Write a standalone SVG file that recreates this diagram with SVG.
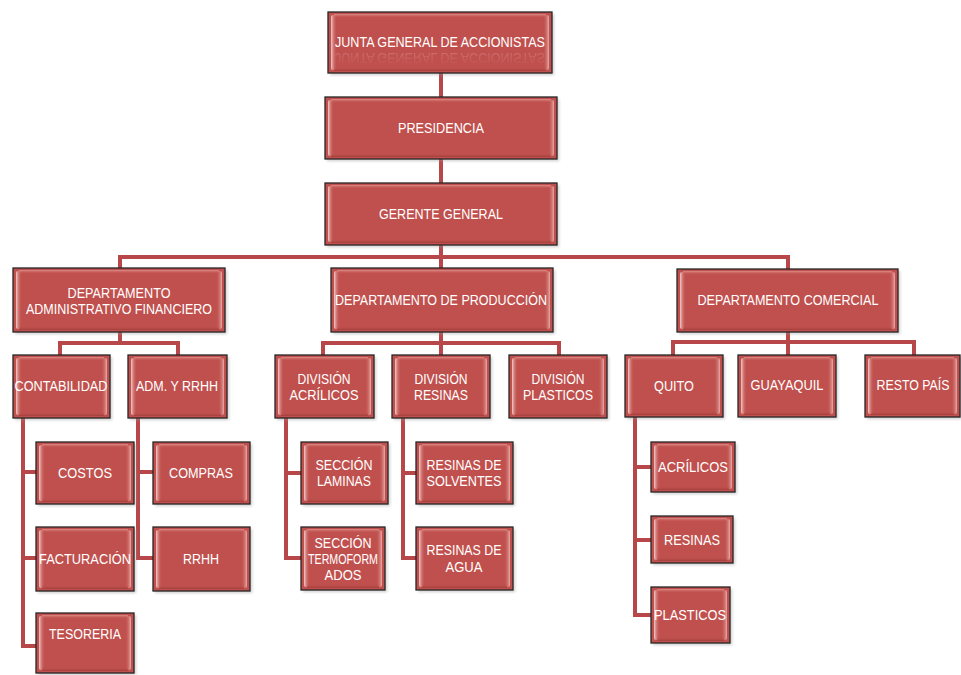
<svg xmlns="http://www.w3.org/2000/svg" width="961" height="675" viewBox="0 0 961 675">
  <defs>
    <linearGradient id="hlL" x1="0" y1="0" x2="1" y2="0">
      <stop offset="0" stop-color="#f6d3d2" stop-opacity="0.95"/>
      <stop offset="1" stop-color="#c0504d" stop-opacity="0"/>
    </linearGradient>
    <linearGradient id="hlR" x1="1" y1="0" x2="0" y2="0">
      <stop offset="0" stop-color="#f0c4c3" stop-opacity="0.8"/>
      <stop offset="1" stop-color="#c0504d" stop-opacity="0"/>
    </linearGradient>
    <linearGradient id="hlT" x1="0" y1="0" x2="0" y2="1">
      <stop offset="0" stop-color="#e9a9a7" stop-opacity="0.7"/>
      <stop offset="1" stop-color="#c0504d" stop-opacity="0"/>
    </linearGradient>
    <linearGradient id="hlB" x1="0" y1="1" x2="0" y2="0">
      <stop offset="0" stop-color="#8e3431" stop-opacity="0.6"/>
      <stop offset="1" stop-color="#c0504d" stop-opacity="0"/>
    </linearGradient>
    <linearGradient id="refl" x1="0" y1="0" x2="0" y2="1">
      <stop offset="0" stop-color="#ffffff" stop-opacity="0"/>
      <stop offset="1" stop-color="#ffffff" stop-opacity="0.5"/>
    </linearGradient>
    <filter id="sh" x="-10%" y="-10%" width="130%" height="130%">
      <feGaussianBlur stdDeviation="1.5"/>
    </filter>
    <style>
      .shadow { fill: #9a9a9a; opacity: 0.5; filter: url(#sh); }
      .box { fill: #c0504d; stroke: #262626; stroke-width: 1.3; }
      .l { fill: url(#hlL); }
      .r { fill: url(#hlR); }
      .t { fill: url(#hlT); }
      .b { fill: url(#hlB); }
      text { font-family: "Liberation Sans", Arial, sans-serif; font-size: 14.5px; fill: #ffffff; text-anchor: middle; }
      .refl { fill: url(#refl); opacity: 0.4; }
      .c-out { fill: none; stroke: #b8474a; stroke-width: 4; stroke-linejoin: miter; }
      .c-in { fill: none; stroke: #d98e8c; stroke-width: 1.2; opacity: 0.8; }
    </style>
  </defs>
  <rect width="961" height="675" fill="#ffffff"/>

  <!-- connectors -->
  <g id="connectors">
    <path id="links" class="c-out" d="M441 73V97 M441 159V183 M441 245V268 M120 268V257H788V269
      M120 332V343 M60 355V343H178V355
      M23 418V646H36 M23 472H36 M23 558H36
      M138 418V558H153 M138 472H153
      M441 332V355 M323 355V343H559V355
      M286 418V558H301 M286 473H301
      M403 418V558H416 M403 473H416
      M788 332V355 M673 355V342H914V355
      M635 417V615H651 M635 467H651 M635 540H651"/>
    <use href="#links" class="c-in"/>
  </g>

  <!-- nodes -->
  <g id="junta">
    <rect class="shadow" x="330" y="14" width="224" height="61"/>
    <rect class="box" x="328" y="12" width="224" height="61"/>
    <rect class="l" x="331" y="15" width="6" height="55" rx="2"/>
    <rect class="r" x="543" y="15" width="6" height="55" rx="2"/>
    <rect class="t" x="334" y="14" width="212" height="4"/>
    <rect class="b" x="334" y="67" width="212" height="4"/>
    <text x="440" y="47" textLength="210" lengthAdjust="spacingAndGlyphs">JUNTA GENERAL DE ACCIONISTAS</text>
    <!-- faint mirrored copy under the title -->
    <text class="refl" x="440" y="-53" transform="scale(1,-1)" textLength="210" lengthAdjust="spacingAndGlyphs" font-size="11">JUNTA GENERAL DE ACCIONISTAS</text>
  </g>
  <g id="presidencia">
    <rect class="shadow" x="327" y="99" width="232" height="62"/>
    <rect class="box" x="325" y="97" width="232" height="62"/>
    <rect class="l" x="328" y="100" width="6" height="56" rx="2"/>
    <rect class="r" x="548" y="100" width="6" height="56" rx="2"/>
    <rect class="t" x="331" y="99" width="220" height="4"/>
    <rect class="b" x="331" y="153" width="220" height="4"/>
    <text x="441" y="133" textLength="86" lengthAdjust="spacingAndGlyphs">PRESIDENCIA</text>
  </g>
  <g id="gerente">
    <rect class="shadow" x="327" y="185" width="232" height="62"/>
    <rect class="box" x="325" y="183" width="232" height="62"/>
    <rect class="l" x="328" y="186" width="6" height="56" rx="2"/>
    <rect class="r" x="548" y="186" width="6" height="56" rx="2"/>
    <rect class="t" x="331" y="185" width="220" height="4"/>
    <rect class="b" x="331" y="239" width="220" height="4"/>
    <text x="441" y="219" textLength="124" lengthAdjust="spacingAndGlyphs">GERENTE GENERAL</text>
  </g>

  <g id="dept-admin">
    <rect class="shadow" x="15" y="270" width="212" height="64"/>
    <rect class="box" x="13" y="268" width="212" height="64"/>
    <rect class="l" x="16" y="271" width="6" height="58" rx="2"/>
    <rect class="r" x="216" y="271" width="6" height="58" rx="2"/>
    <rect class="t" x="19" y="270" width="200" height="4"/>
    <rect class="b" x="19" y="326" width="200" height="4"/>
    <text x="119" y="298" textLength="103" lengthAdjust="spacingAndGlyphs">DEPARTAMENTO</text>
    <text x="119" y="314" textLength="186" lengthAdjust="spacingAndGlyphs">ADMINISTRATIVO FINANCIERO</text>
  </g>
  <g id="dept-produccion">
    <rect class="shadow" x="333" y="270" width="222" height="64"/>
    <rect class="box" x="331" y="268" width="222" height="64"/>
    <rect class="l" x="334" y="271" width="6" height="58" rx="2"/>
    <rect class="r" x="544" y="271" width="6" height="58" rx="2"/>
    <rect class="t" x="337" y="270" width="210" height="4"/>
    <rect class="b" x="337" y="326" width="210" height="4"/>
    <text x="441" y="305" textLength="212" lengthAdjust="spacingAndGlyphs">DEPARTAMENTO DE PRODUCCIÓN</text>
  </g>
  <g id="dept-comercial">
    <rect class="shadow" x="679" y="271" width="221" height="63"/>
    <rect class="box" x="677" y="269" width="221" height="63"/>
    <rect class="l" x="680" y="272" width="6" height="57" rx="2"/>
    <rect class="r" x="889" y="272" width="6" height="57" rx="2"/>
    <rect class="t" x="683" y="271" width="209" height="4"/>
    <rect class="b" x="683" y="326" width="209" height="4"/>
    <text x="788" y="305" textLength="181" lengthAdjust="spacingAndGlyphs">DEPARTAMENTO COMERCIAL</text>
  </g>

  <g id="contabilidad">
    <rect class="shadow" x="15" y="357" width="97" height="63"/>
    <rect class="box" x="13" y="355" width="97" height="63"/>
    <rect class="l" x="16" y="358" width="6" height="57" rx="2"/>
    <rect class="r" x="101" y="358" width="6" height="57" rx="2"/>
    <rect class="t" x="19" y="357" width="85" height="4"/>
    <rect class="b" x="19" y="412" width="85" height="4"/>
    <text x="61" y="391" textLength="93" lengthAdjust="spacingAndGlyphs">CONTABILIDAD</text>
  </g>
  <g id="adm-rrhh">
    <rect class="shadow" x="130" y="357" width="99" height="63"/>
    <rect class="box" x="128" y="355" width="99" height="63"/>
    <rect class="l" x="131" y="358" width="6" height="57" rx="2"/>
    <rect class="r" x="218" y="358" width="6" height="57" rx="2"/>
    <rect class="t" x="134" y="357" width="87" height="4"/>
    <rect class="b" x="134" y="412" width="87" height="4"/>
    <text x="177" y="391" textLength="82" lengthAdjust="spacingAndGlyphs">ADM. Y RRHH</text>
  </g>
  <g id="costos">
    <rect class="shadow" x="38" y="444" width="98" height="62"/>
    <rect class="box" x="36" y="442" width="98" height="62"/>
    <rect class="l" x="39" y="445" width="6" height="56" rx="2"/>
    <rect class="r" x="125" y="445" width="6" height="56" rx="2"/>
    <rect class="t" x="42" y="444" width="86" height="4"/>
    <rect class="b" x="42" y="498" width="86" height="4"/>
    <text x="85" y="478" textLength="54" lengthAdjust="spacingAndGlyphs">COSTOS</text>
  </g>
  <g id="facturacion">
    <rect class="shadow" x="38" y="529" width="98" height="64"/>
    <rect class="box" x="36" y="527" width="98" height="64"/>
    <rect class="l" x="39" y="530" width="6" height="58" rx="2"/>
    <rect class="r" x="125" y="530" width="6" height="58" rx="2"/>
    <rect class="t" x="42" y="529" width="86" height="4"/>
    <rect class="b" x="42" y="585" width="86" height="4"/>
    <text x="85" y="564" textLength="92" lengthAdjust="spacingAndGlyphs">FACTURACIÓN</text>
  </g>
  <g id="tesoreria">
    <rect class="shadow" x="38" y="615" width="98" height="60"/>
    <rect class="box" x="36" y="613" width="98" height="60"/>
    <rect class="l" x="39" y="616" width="6" height="54" rx="2"/>
    <rect class="r" x="125" y="616" width="6" height="54" rx="2"/>
    <rect class="t" x="42" y="615" width="86" height="4"/>
    <rect class="b" x="42" y="667" width="86" height="4"/>
    <text x="85" y="639" textLength="72" lengthAdjust="spacingAndGlyphs">TESORERIA</text>
  </g>
  <g id="compras">
    <rect class="shadow" x="155" y="444" width="97" height="62"/>
    <rect class="box" x="153" y="442" width="97" height="62"/>
    <rect class="l" x="156" y="445" width="6" height="56" rx="2"/>
    <rect class="r" x="241" y="445" width="6" height="56" rx="2"/>
    <rect class="t" x="159" y="444" width="85" height="4"/>
    <rect class="b" x="159" y="498" width="85" height="4"/>
    <text x="201" y="478" textLength="64" lengthAdjust="spacingAndGlyphs">COMPRAS</text>
  </g>
  <g id="rrhh">
    <rect class="shadow" x="155" y="529" width="97" height="64"/>
    <rect class="box" x="153" y="527" width="97" height="64"/>
    <rect class="l" x="156" y="530" width="6" height="58" rx="2"/>
    <rect class="r" x="241" y="530" width="6" height="58" rx="2"/>
    <rect class="t" x="159" y="529" width="85" height="4"/>
    <rect class="b" x="159" y="585" width="85" height="4"/>
    <text x="201" y="564" textLength="36" lengthAdjust="spacingAndGlyphs">RRHH</text>
  </g>

  <g id="div-acrilicos">
    <rect class="shadow" x="277" y="357" width="99" height="63"/>
    <rect class="box" x="275" y="355" width="99" height="63"/>
    <rect class="l" x="278" y="358" width="6" height="57" rx="2"/>
    <rect class="r" x="365" y="358" width="6" height="57" rx="2"/>
    <rect class="t" x="281" y="357" width="87" height="4"/>
    <rect class="b" x="281" y="412" width="87" height="4"/>
    <text x="324" y="384" textLength="53" lengthAdjust="spacingAndGlyphs">DIVISIÓN</text>
    <text x="324" y="400" textLength="69" lengthAdjust="spacingAndGlyphs">ACRÍLICOS</text>
  </g>
  <g id="div-resinas">
    <rect class="shadow" x="394" y="357" width="98" height="63"/>
    <rect class="box" x="392" y="355" width="98" height="63"/>
    <rect class="l" x="395" y="358" width="6" height="57" rx="2"/>
    <rect class="r" x="481" y="358" width="6" height="57" rx="2"/>
    <rect class="t" x="398" y="357" width="86" height="4"/>
    <rect class="b" x="398" y="412" width="86" height="4"/>
    <text x="441" y="384" textLength="53" lengthAdjust="spacingAndGlyphs">DIVISIÓN</text>
    <text x="441" y="400" textLength="54" lengthAdjust="spacingAndGlyphs">RESINAS</text>
  </g>
  <g id="div-plasticos">
    <rect class="shadow" x="511" y="357" width="98" height="63"/>
    <rect class="box" x="509" y="355" width="98" height="63"/>
    <rect class="l" x="512" y="358" width="6" height="57" rx="2"/>
    <rect class="r" x="598" y="358" width="6" height="57" rx="2"/>
    <rect class="t" x="515" y="357" width="86" height="4"/>
    <rect class="b" x="515" y="412" width="86" height="4"/>
    <text x="558" y="384" textLength="53" lengthAdjust="spacingAndGlyphs">DIVISIÓN</text>
    <text x="558" y="400" textLength="70" lengthAdjust="spacingAndGlyphs">PLASTICOS</text>
  </g>
  <g id="seccion-laminas">
    <rect class="shadow" x="303" y="444" width="87" height="62"/>
    <rect class="box" x="301" y="442" width="87" height="62"/>
    <rect class="l" x="304" y="445" width="6" height="56" rx="2"/>
    <rect class="r" x="379" y="445" width="6" height="56" rx="2"/>
    <rect class="t" x="307" y="444" width="75" height="4"/>
    <rect class="b" x="307" y="498" width="75" height="4"/>
    <text x="344" y="470" textLength="57" lengthAdjust="spacingAndGlyphs">SECCIÓN</text>
    <text x="344" y="486" textLength="54" lengthAdjust="spacingAndGlyphs">LAMINAS</text>
  </g>
  <g id="seccion-termoformados">
    <rect class="shadow" x="303" y="529" width="84" height="63"/>
    <rect class="box" x="301" y="527" width="84" height="63"/>
    <rect class="l" x="304" y="530" width="6" height="57" rx="2"/>
    <rect class="r" x="376" y="530" width="6" height="57" rx="2"/>
    <rect class="t" x="307" y="529" width="72" height="4"/>
    <rect class="b" x="307" y="584" width="72" height="4"/>
    <text x="343" y="548" textLength="57" lengthAdjust="spacingAndGlyphs">SECCIÓN</text>
    <text x="343" y="564" textLength="70" lengthAdjust="spacingAndGlyphs">TERMOFORM</text>
    <text x="343" y="580" textLength="37" lengthAdjust="spacingAndGlyphs">ADOS</text>
  </g>
  <g id="resinas-solventes">
    <rect class="shadow" x="418" y="444" width="97" height="62"/>
    <rect class="box" x="416" y="442" width="97" height="62"/>
    <rect class="l" x="419" y="445" width="6" height="56" rx="2"/>
    <rect class="r" x="504" y="445" width="6" height="56" rx="2"/>
    <rect class="t" x="422" y="444" width="85" height="4"/>
    <rect class="b" x="422" y="498" width="85" height="4"/>
    <text x="464" y="470" textLength="75" lengthAdjust="spacingAndGlyphs">RESINAS DE</text>
    <text x="464" y="486" textLength="75" lengthAdjust="spacingAndGlyphs">SOLVENTES</text>
  </g>
  <g id="resinas-agua">
    <rect class="shadow" x="418" y="529" width="97" height="63"/>
    <rect class="box" x="416" y="527" width="97" height="63"/>
    <rect class="l" x="419" y="530" width="6" height="57" rx="2"/>
    <rect class="r" x="504" y="530" width="6" height="57" rx="2"/>
    <rect class="t" x="422" y="529" width="85" height="4"/>
    <rect class="b" x="422" y="584" width="85" height="4"/>
    <text x="464" y="555" textLength="75" lengthAdjust="spacingAndGlyphs">RESINAS DE</text>
    <text x="464" y="572" textLength="37" lengthAdjust="spacingAndGlyphs">AGUA</text>
  </g>

  <g id="quito">
    <rect class="shadow" x="627" y="357" width="98" height="62"/>
    <rect class="box" x="625" y="355" width="98" height="62"/>
    <rect class="l" x="628" y="358" width="6" height="56" rx="2"/>
    <rect class="r" x="714" y="358" width="6" height="56" rx="2"/>
    <rect class="t" x="631" y="357" width="86" height="4"/>
    <rect class="b" x="631" y="411" width="86" height="4"/>
    <text x="674" y="391" textLength="40" lengthAdjust="spacingAndGlyphs">QUITO</text>
  </g>
  <g id="guayaquil">
    <rect class="shadow" x="740" y="357" width="98" height="62"/>
    <rect class="box" x="738" y="355" width="98" height="62"/>
    <rect class="l" x="741" y="358" width="6" height="56" rx="2"/>
    <rect class="r" x="827" y="358" width="6" height="56" rx="2"/>
    <rect class="t" x="744" y="357" width="86" height="4"/>
    <rect class="b" x="744" y="411" width="86" height="4"/>
    <text x="787" y="390" textLength="73" lengthAdjust="spacingAndGlyphs">GUAYAQUIL</text>
  </g>
  <g id="resto-pais">
    <rect class="shadow" x="867" y="357" width="95" height="62"/>
    <rect class="box" x="865" y="355" width="95" height="62"/>
    <rect class="l" x="868" y="358" width="6" height="56" rx="2"/>
    <rect class="r" x="951" y="358" width="6" height="56" rx="2"/>
    <rect class="t" x="871" y="357" width="83" height="4"/>
    <rect class="b" x="871" y="411" width="83" height="4"/>
    <text x="913" y="390" textLength="73" lengthAdjust="spacingAndGlyphs">RESTO PAÍS</text>
  </g>
  <g id="acrilicos">
    <rect class="shadow" x="653" y="444" width="84" height="50"/>
    <rect class="box" x="651" y="442" width="84" height="50"/>
    <rect class="l" x="654" y="445" width="6" height="44" rx="2"/>
    <rect class="r" x="726" y="445" width="6" height="44" rx="2"/>
    <rect class="t" x="657" y="444" width="72" height="4"/>
    <rect class="b" x="657" y="486" width="72" height="4"/>
    <text x="693" y="472" textLength="70" lengthAdjust="spacingAndGlyphs">ACRÍLICOS</text>
  </g>
  <g id="resinas">
    <rect class="shadow" x="653" y="518" width="82" height="47"/>
    <rect class="box" x="651" y="516" width="82" height="47"/>
    <rect class="l" x="654" y="519" width="6" height="41" rx="2"/>
    <rect class="r" x="724" y="519" width="6" height="41" rx="2"/>
    <rect class="t" x="657" y="518" width="70" height="4"/>
    <rect class="b" x="657" y="557" width="70" height="4"/>
    <text x="692" y="545" textLength="56" lengthAdjust="spacingAndGlyphs">RESINAS</text>
  </g>
  <g id="plasticos">
    <rect class="shadow" x="653" y="589" width="79" height="56"/>
    <rect class="box" x="651" y="587" width="79" height="56"/>
    <rect class="l" x="654" y="590" width="6" height="50" rx="2"/>
    <rect class="r" x="721" y="590" width="6" height="50" rx="2"/>
    <rect class="t" x="657" y="589" width="67" height="4"/>
    <rect class="b" x="657" y="637" width="67" height="4"/>
    <text x="690" y="620" textLength="72" lengthAdjust="spacingAndGlyphs">PLASTICOS</text>
  </g>
</svg>
